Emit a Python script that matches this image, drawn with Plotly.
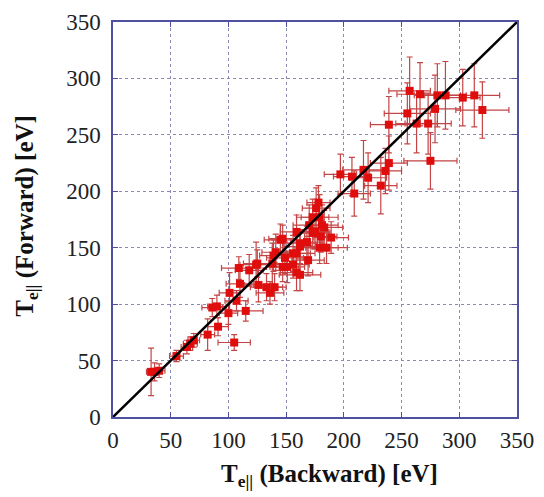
import plotly.graph_objects as go

# Data (eV)
t_backward = [33, 36, 40, 55, 64, 67, 70, 82, 91, 105, 100, 86, 90, 101, 107, 115, 110, 109, 118, 124,
              126, 133, 138, 141, 145, 151, 159, 162, 159, 136, 140, 139, 149, 156, 162, 159, 173, 173, 179, 181,
              175, 189, 179, 169, 156, 125, 147, 147, 162, 170, 176, 178, 180, 185, 168, 183, 197, 207, 209, 217,
              221, 232, 236, 239, 275, 239, 255, 257, 266, 263, 273, 279, 281, 288, 303, 313, 320]
t_forward = [40, 40, 41, 54, 62, 65, 68, 73, 80, 66, 92, 97, 98, 110, 103, 94, 118, 132, 130, 135,
             117, 115, 136, 146, 157, 133, 145, 154, 128, 110, 115, 143, 141, 135, 126, 164, 163, 177, 177, 170,
             164, 159, 150, 139, 145, 136, 133, 158, 151, 170, 185, 190, 160, 150, 155, 168, 215, 213, 198, 219,
             212, 205, 218, 225, 227, 259, 269, 289, 286, 260, 260, 273, 285, 285, 283, 285, 272]
err_backward = [4, 4, 5, 6, 5, 6, 5, 6, 9, 14, 8, 9, 8, 9, 10, 15, 12, 15, 12, 14,
                12, 14, 15, 12, 14, 15, 16, 15, 14, 12, 10, 12, 16, 14, 18, 14, 15, 14, 16, 14,
                12, 15, 16, 14, 15, 12, 14, 12, 14, 14, 12, 10, 14, 18, 14, 16, 14, 16, 14, 18,
                16, 14, 14, 16, 23, 16, 20, 18, 20, 18, 20, 22, 20, 18, 15, 22, 23]
err_forward = [21, 8, 6, 5, 6, 6, 6, 14, 8, 7, 10, 8, 10, 18, 9, 9, 12, 10, 14, 20,
               15, 12, 18, 16, 14, 14, 15, 12, 16, 10, 12, 14, 14, 12, 14, 15, 14, 16, 20, 18,
               15, 14, 14, 14, 16, 12, 13, 12, 15, 18, 18, 15, 14, 14, 14, 15, 18, 17, 20, 26,
               22, 25, 20, 24, 25, 25, 27, 30, 28, 26, 27, 30, 28, 30, 25, 28, 25]
diag_line = [0, 350]
tick_values = [0, 50, 100, 150, 200, 250, 300, 350]
x_title = "<b>T<sub>e||</sub> (Backward) [eV]</b>"
y_title = "<b>T<sub>e||</sub> (Forward) [eV]</b>"

axis_color = "#5050a0"
grid_color = "#8a8ab4"
serif = "Liberation Serif"

fig = go.Figure()
fig.add_trace(go.Scatter(
    x=t_backward, y=t_forward, mode="markers",
    marker=dict(symbol="square", size=8, color="#e00d0d", line=dict(width=0)),
    error_x=dict(type="data", array=err_backward, color="#c44545", thickness=1.2, width=3),
    error_y=dict(type="data", array=err_forward, color="#c44545", thickness=1.2, width=3),
    showlegend=False,
))
fig.add_trace(go.Scatter(
    x=diag_line, y=diag_line, mode="lines",
    line=dict(color="black", width=2.5), showlegend=False,
))

axis_common = dict(
    range=[0, 350], tickvals=tick_values, ticks="inside", ticklen=5,
    tickcolor=axis_color, showline=True, linecolor=axis_color, linewidth=1.5,
    mirror="ticks", showgrid=True, gridcolor=grid_color, griddash="dot", gridwidth=1,
    zeroline=False, automargin=False,
    tickfont=dict(family=serif, size=23, color="#222"),
)

# page body has an 8px margin, so the figure is sized to the remaining viewport
fig.update_layout(
    width=536, height=489,
    margin=dict(l=105, r=27, t=14, b=80),
    paper_bgcolor="white", plot_bgcolor="white",
    xaxis=dict(**axis_common, ticklabelstandoff=2),
    yaxis=dict(**axis_common, ticklabelstandoff=6),
    annotations=[
        dict(text=x_title, xref="paper", yref="paper", x=0.537, y=-0.105,
             xanchor="center", yanchor="top", showarrow=False,
             font=dict(family=serif, size=25, color="#111")),
        dict(text=y_title, xref="paper", yref="paper", x=-0.215, y=0.51,
             xanchor="center", yanchor="middle", showarrow=False, textangle=-90,
             font=dict(family=serif, size=25, color="#111")),
    ],
)

fig.write_html("out.html")
